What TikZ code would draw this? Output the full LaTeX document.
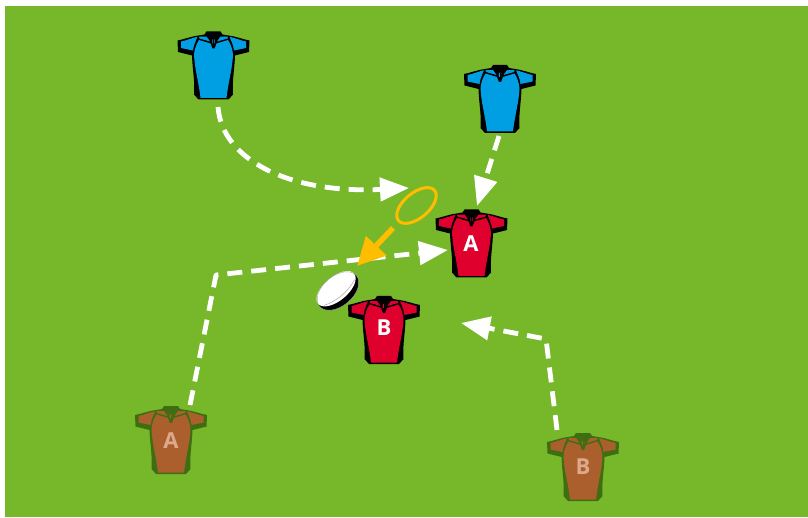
\documentclass[tikz,border=0pt]{standalone}
\usepackage{fontspec}
\setmainfont{Open Sans}
\usetikzlibrary{arrows.meta,shapes.geometric}
\definecolor{pitch}{HTML}{76B82A}
\definecolor{teamblue}{HTML}{009FE3}
\definecolor{teamred}{HTML}{E0002D}
\definecolor{teambrown}{HTML}{AB5F2D}
\definecolor{browntrim}{HTML}{3F6E12}
\definecolor{brownletter}{HTML}{DDA98C}
\definecolor{passorange}{HTML}{FFBD00}
\begin{document}
\begin{tikzpicture}[
    x=1pt, y=-1pt,
    line cap=butt,
    line join=round,
    run/.style={draw=white, line width=4.8pt, dash pattern=on 15pt off 9pt, -{Triangle[length=29pt,width=23pt,fill=white]}},
    pass/.style={draw=passorange, line width=5.5pt, -{Triangle[length=28pt,width=27pt,fill=passorange]}},
    ring/.style={ellipse, draw=passorange, line width=3pt, fill=none, minimum width=47pt, minimum height=25pt, inner sep=0pt, rotate=40},
    whitelabel/.style={text=white, font=\fontsize{22}{22}\selectfont\bfseries, inner sep=0pt},
    brownlabel/.style={text=brownletter, font=\fontsize{22}{22}\selectfont\bfseries, inner sep=0pt},
    pics/jersey/.style 2 args={code={
      % silhouette
      \fill[#2] (-7,-34) -- (7,-34) -- (9,-31) -- (15,-30) .. controls (23,-29) and (30,-26) .. (36,-25)
        -- (35.5,-13.5) -- (21.5,-10) .. controls (21,5) and (18.5,15) .. (19.5,29) -- (15,34) -- (-15,34) -- (-19.5,29)
        .. controls (-18.5,15) and (-21,5) .. (-21.5,-10) -- (-35.5,-13.5) -- (-36,-25)
        .. controls (-30,-26) and (-23,-29) .. (-15,-30) -- (-9,-31) -- cycle;
      % sleeves
      \fill[#1] (-16,-28.7) .. controls (-22,-27.5) and (-27,-25) .. (-32.5,-24) -- (-32.5,-17.5) -- (-20.5,-15) .. controls (-20,-20) and (-18,-24) .. cycle;
      \fill[#1] (16,-28.7) .. controls (22,-27.5) and (27,-25) .. (32.5,-24) -- (32.5,-17.5) -- (20.5,-15) .. controls (20,-20) and (18,-24) .. cycle;
      % yoke
      \fill[#1] (-14.5,-28.8) -- (-7,-29) -- (-3.5,-24) -- (-14,-27) -- cycle;
      \fill[#1] (14.5,-28.8) -- (7,-29) -- (3.5,-24) -- (14,-27) -- cycle;
      % body
      \fill[#1] (-14.5,-25.5) -- (-3,-22) -- (-1.2,-17) -- (1.2,-17) -- (3,-22) -- (14.5,-25.5)
        .. controls (17.5,-21) and (19,-16) .. (19.5,-11) .. controls (19,3) and (15,15) .. (13,32.5) -- (-13,32.5)
        .. controls (-15,15) and (-19,3) .. (-19.5,-11) .. controls (-19,-16) and (-17.5,-21) .. cycle;
      % placket
      \fill[#1] (-1.2,-26) -- (1.2,-26) -- (1,-22) -- (-1,-22) -- cycle;
      \fill[#2] (-0.5,-26) rectangle (0.5,-18);
    }},
    pics/ball/.style={code={
      \begin{scope}[rotate=40]
        \fill[black] (0,0) ellipse (24 and 15);
        \fill[white] (0,-3) ellipse (23.5 and 12);
        \draw[gray!70, line width=0.5pt] (-20,2) .. controls (-8,7) and (8,7) .. (20,2);
        \draw[gray!70, line width=0.4pt] (0,0) ellipse (24 and 15);
      \end{scope}
    }}
]
\useasboundingbox (0,0) rectangle (808,518);
\fill[pitch] (5,6) rectangle (808,517);

% attackers
\pic at (213.5,65.5) {jersey={teamblue}{black}};
\pic at (500,99) {jersey={teamblue}{black}};
% defenders
\pic at (471.5,243.5) {jersey={teamred}{black}};
\pic at (384,330) {jersey={teamred}{black}};
% support
\pic at (171,440) {jersey={teambrown}{browntrim}};
\pic at (583,467) {jersey={teambrown}{browntrim}};

\node[whitelabel] (redA) at (471,244) {A};
\node[whitelabel] (redB) at (384,328) {B};
\node[brownlabel] (brownA) at (171,441) {A};
\node[brownlabel] (brownB) at (583,467) {B};

\pic at (338,291) {ball};
\node[ring] (target) at (416.5,205.5) {};

\coordinate (runOneStart) at (218,107);
\coordinate (runOneEnd) at (409,188);
\coordinate (runTwoStart) at (499,136);
\coordinate (runTwoEnd) at (477,206);
\coordinate (runThreeStart) at (190,405);
\coordinate (runThreeBend) at (216,275);
\coordinate (runThreeEnd) at (448,250);
\coordinate (runFourStart) at (557,430);
\coordinate (runFourBend) at (546,339);
\coordinate (runFourEnd) at (461,323);
\coordinate (passStart) at (393,228);
\coordinate (passEnd) at (357,266);

\draw[run] (runOneStart) .. controls (222,160) and (290,194) .. (runOneEnd);
\draw[run] (runTwoStart) -- (runTwoEnd);
\draw[run] (runThreeStart) -- (runThreeBend) -- (runThreeEnd);
\draw[run] (runFourStart) -- (runFourBend) -- (runFourEnd);
\draw[pass] (passStart) -- (passEnd);
\end{tikzpicture}
\end{document}
